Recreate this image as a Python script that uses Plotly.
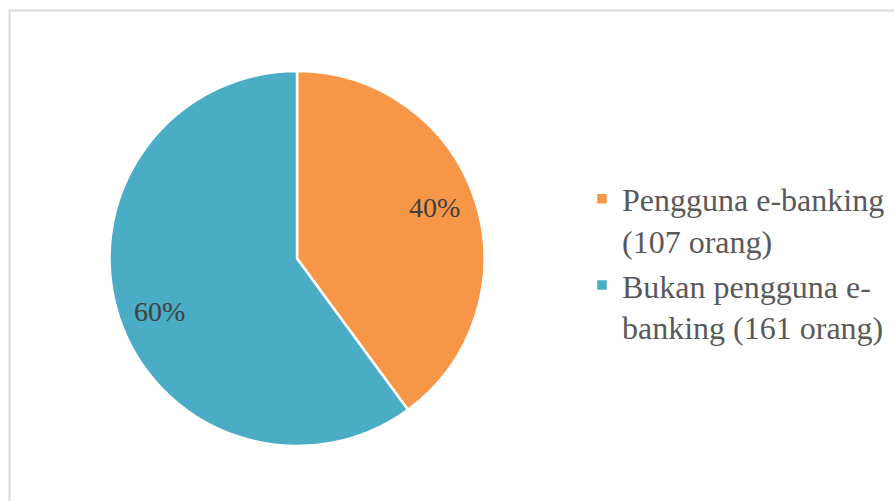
import math
import plotly.graph_objects as go

labels = ["Pengguna e-banking<br>(107 orang)", "Bukan pengguna e-<br>banking (161 orang)"]
values = [107, 161]
colors = ["#F79646", "#4BACC6"]

W, H = 894, 501
CX, CY, R = 297, 258.5, 187.5  # pie center/radius in pixels
fig = go.Figure(go.Pie(
    labels=labels, values=values, sort=False, direction="clockwise", rotation=0,
    marker=dict(colors=colors, line=dict(color="white", width=2.5)),
    textinfo="none",
    domain=dict(x=[(CX-R)/W, (CX+R)/W], y=[(H-CY-R)/H, (H-CY+R)/H]),
    hoverinfo="label+percent",
))

# percentage labels placed along each slice's mid-angle
total = sum(values)
annotations = []
cum = 0
for v in values:
    mid = (cum + v / 2) / total * 2 * math.pi - math.radians(2.5)
    cum += v
    rr = 0.785 * R
    px = CX + rr * math.sin(mid)
    py = CY - rr * math.cos(mid) + 1
    annotations.append(dict(x=px / W, y=(H - py) / H, xref="paper", yref="paper",
                            xanchor="center", yanchor="middle",
                            text=f"{round(v / total * 100)}%", showarrow=False,
                            font=dict(family="Liberation Serif", size=28, color="#404040")))

fig.update_layout(
    width=W, height=H, margin=dict(l=0, r=0, t=0, b=0),
    paper_bgcolor="white", plot_bgcolor="white",
    font=dict(family="Liberation Serif", color="#595959"),
    annotations=annotations,
    legend=dict(x=0.651, y=0.475, xanchor="left", yanchor="middle", valign="top",
                font=dict(family="Liberation Serif", size=32, color="#595959"),
                bgcolor="rgba(0,0,0,0)"),
    shapes=[dict(type="rect", xref="paper", yref="paper", x0=9.5/W, x1=1.02, y0=-0.02, y1=(H-10.5)/H,
                 line=dict(color="#D9D9D9", width=2), fillcolor="rgba(0,0,0,0)")],
)
fig.write_html("out.html")
